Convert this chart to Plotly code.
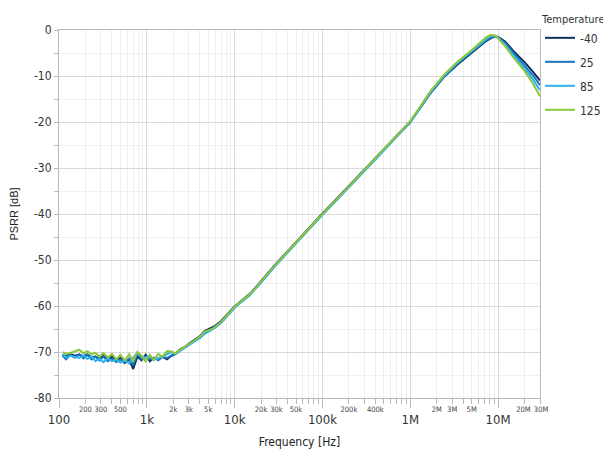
import math
import plotly.graph_objects as go

# ---------------- data ----------------
freq_hz = [110, 120, 135, 150, 170, 190, 210, 235, 260, 290, 320, 360, 400, 450, 500,
           560, 630, 700, 780, 870, 970, 1080, 1200, 1350, 1500, 1700, 1900,
           2100, 2400, 2700, 3000, 3500, 4000, 4500, 5000, 5500, 6000, 7000, 8000, 9000,
           10000, 12000, 15000, 20000, 30000, 50000, 70000, 100000, 150000, 200000,
           300000, 400000, 500000, 700000, 1000000, 1300000, 1700000, 2400000, 3400000,
           4900000, 6300000, 7300000, 8200000, 9300000, 10000000, 12000000, 15000000,
           20000000, 25000000, 30000000]

psrr_m40 = [-70.6, -71.0, -70.4, -70.8, -70.6, -70.9, -70.5, -71.2, -71.0, -71.5, -70.8, -71.8,
            -71.0, -72.0, -71.3, -72.4, -71.6, -73.7, -71.0, -71.8, -70.6, -72.0, -71.3, -71.5,
            -71.0, -71.6, -70.8,
            -70.4, -69.4, -68.9, -68.2, -67.4, -66.6, -65.5, -65.1, -64.8, -64.3, -63.3, -62.0,
            -61.0, -60.1, -58.8, -57.3, -54.6, -50.7, -46.1, -43.0, -39.9, -36.4, -33.9,
            -30.4, -27.9, -25.9, -22.9, -19.9, -16.9, -13.7, -10.3, -7.6,
            -5.1, -3.3, -2.4, -1.8, -1.4, -1.5, -2.5, -4.6,
            -7.0, -9.1, -11.0]

psrr_25 = [-70.8, -71.6, -70.6, -71.2, -70.5, -71.4, -70.6, -71.6, -71.0, -71.8, -71.0, -72.0,
           -71.4, -72.2, -71.6, -72.3, -71.4, -72.8, -70.3, -71.5, -71.0, -71.6, -71.2, -71.8,
           -71.1, -71.3, -70.9,
           -70.5, -69.6, -69.0, -68.4, -67.6, -66.9, -66.0, -65.5, -65.1, -64.6, -63.6, -62.3,
           -61.3, -60.3, -59.0, -57.5, -54.8, -50.9, -46.3, -43.2, -40.1, -36.6, -34.1,
           -30.6, -28.1, -26.1, -23.1, -20.1, -16.9, -13.7, -10.2, -7.4,
           -4.9, -3.1, -2.2, -1.6, -1.3, -1.6, -2.8, -5.0,
           -7.7, -9.9, -12.0]

psrr_85 = [-70.4, -71.2, -70.8, -71.0, -71.3, -70.8, -71.5, -71.0, -72.0, -71.4, -72.2, -71.4,
           -72.0, -71.6, -72.3, -71.8, -72.5, -71.2, -70.2, -71.0, -71.2, -71.0, -71.6, -71.4,
           -71.0, -70.6, -70.0,
           -70.5, -69.7, -69.1, -68.5, -67.7, -67.0, -66.1, -65.6, -65.2, -64.7, -63.7, -62.4,
           -61.4, -60.4, -59.1, -57.6, -54.9, -51.0, -46.4, -43.3, -40.2, -36.7, -34.2,
           -30.7, -28.2, -26.2, -23.1, -20.0, -16.8, -13.5, -10.0, -7.2,
           -4.7, -2.9, -2.0, -1.4, -1.3, -1.7, -3.2, -5.5,
           -8.3, -10.8, -13.1]

psrr_125 = [-70.0, -70.4, -70.2, -69.8, -69.5, -70.3, -69.8, -70.5, -70.2, -71.0, -70.2, -71.2,
            -70.4, -71.6, -70.6, -71.8, -70.5, -72.0, -70.0, -70.8, -72.0, -70.6, -71.8, -70.4,
            -71.0, -69.8, -69.9,
            -70.3, -69.5, -68.9, -68.3, -67.5, -66.7, -65.6, -65.3, -65.0, -64.5, -63.5, -62.2,
            -61.2, -60.2, -58.9, -57.4, -54.7, -50.8, -46.2, -43.1, -40.0, -36.5, -34.0,
            -30.5, -28.0, -26.0, -23.0, -19.8, -16.6, -13.3, -9.8, -7.0,
            -4.5, -2.6, -1.6, -1.1, -1.2, -1.8, -3.5, -6.0,
            -8.9, -11.7, -14.4]

series_names = ["-40", "25", "85", "125"]
series_values = [psrr_m40, psrr_25, psrr_85, psrr_125]
series_colors = ["#0c2f5b", "#1874bf", "#28b5ee", "#8cc63e"]

major_ticks = [100, 1000, 10000, 100000, 1000000, 10000000]
major_labels = ["100", "1k", "10k", "100k", "1M", "10M"]
minor_ticks = [200, 300, 500, 2000, 3000, 5000, 20000, 30000, 50000,
               200000, 400000, 2000000, 3000000, 5000000, 20000000, 30000000]
minor_labels = ["200", "300", "500", "2k", "3k", "5k", "20k", "30k", "50k",
                "200k", "400k", "2M", "3M", "5M", "20M\u00a0", "\u00a030M"]
y_ticks = [0, -10, -20, -30, -40, -50, -60, -70, -80]
y_labels = ["0", "-10", "-20", "-30", "-40", "-50", "-60", "-70", "-80"]

FONT = "Liberation Sans Narrow, DejaVu Sans Condensed, Roboto Condensed, Liberation Sans, sans-serif"

fig = go.Figure()
for name, vals, col in zip(series_names, series_values, series_colors):
    fig.add_trace(go.Scatter(x=freq_hz, y=vals, mode="lines", name=name,
                             legendgroup=name,
                             line=dict(color=col, width=2)))

# invisible trace carrying the minor tick labels on a second overlaid axis
fig.add_trace(go.Scatter(x=[freq_hz[0]], y=[psrr_25[0]], xaxis="x2", mode="lines",
                         showlegend=False, hoverinfo="skip",
                         line=dict(color="rgba(0,0,0,0)")))

xr = [math.log10(100), math.log10(30000000)]

fig.update_layout(
    width=611, height=461,
    margin=dict(l=51, r=79, t=22, b=71, autoexpand=False),
    paper_bgcolor="white", plot_bgcolor="white",
    font=dict(family=FONT, color="#333333", size=12),
    showlegend=True,
    legend=dict(
        x=1.0, xanchor="left", y=1.057, yanchor="top",
        title=dict(text="Temperature [°C]", font=dict(size=11, family=FONT, color="#333333")),
        font=dict(size=12, family=FONT, color="#333333"),
        tracegroupgap=5, bgcolor="rgba(0,0,0,0)",
    ),
    xaxis=dict(
        type="log", range=xr, automargin=False,
        tickvals=major_ticks, ticktext=major_labels, tickangle=0,
        tickfont=dict(size=13, family=FONT, color="#333333"),
        ticks="outside", ticklen=9, tickcolor="#b8b8b8", tickwidth=1,
        showline=True, linecolor="#b8b8b8", linewidth=1, mirror=True,
        showgrid=True, gridcolor="#d9d9d9", gridwidth=1,
        minor=dict(dtick="D1", ticks="outside", ticklen=5, tickcolor="#b8b8b8",
                   showgrid=True, gridcolor="#efefef", gridwidth=1),
        zeroline=False,
        title=dict(text="Frequency [Hz]", font=dict(size=12, family=FONT, color="#222222"),
                   standoff=12),
    ),
    xaxis2=dict(
        type="log", range=xr, overlaying="x", anchor="y", side="bottom", automargin=False,
        tickvals=minor_ticks, ticktext=minor_labels, tickangle=0,
        tickfont=dict(size=7.5, family=FONT, color="#444444"),
        ticks="outside", ticklen=4, tickcolor="rgba(0,0,0,0)",
        showgrid=False, showline=False, zeroline=False,
    ),
    yaxis=dict(
        range=[-80, 0], tickvals=y_ticks, ticktext=y_labels, automargin=False,
        tickfont=dict(size=12, family=FONT, color="#333333"),
        ticks="outside", ticklen=4, tickcolor="#b8b8b8",
        showline=True, linecolor="#b8b8b8", linewidth=1, mirror=True,
        showgrid=True, gridcolor="#d9d9d9", gridwidth=1,
        minor=dict(dtick=5, ticks="outside", ticklen=4, tickcolor="#b8b8b8",
                   showgrid=True, gridcolor="#efefef", gridwidth=1),
        zeroline=False,
        title=dict(text="PSRR [dB]", font=dict(size=11, family="Liberation Sans, Arial, sans-serif",
                                             color="#222222"), standoff=13),
    ),
)

# thin frame line at the left edge of the picture
fig.add_shape(type="line", xref="paper", yref="paper",
              x0=-0.1185, x1=-0.1185, y0=1.09, y1=-0.2,
              line=dict(color="#9a9a9a", width=1))

fig.write_html("out.html")
